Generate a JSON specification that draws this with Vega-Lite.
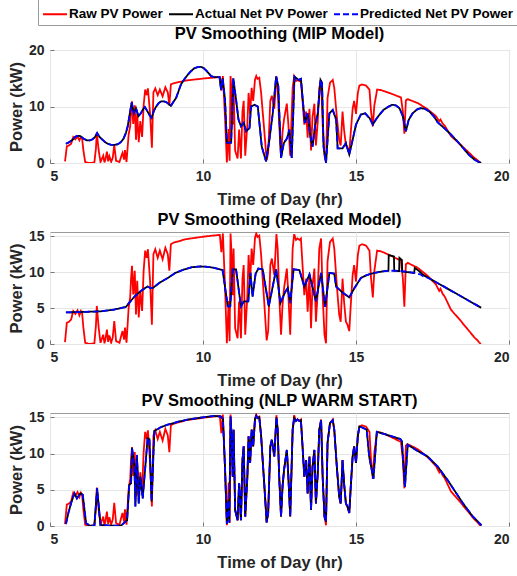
{
"$schema": "https://vega.github.io/schema/vega-lite/v6.json",
"background": "white",
"padding": {"left": 7, "top": -4, "right": 5, "bottom": 2},
"config": {
  "font": "Liberation Sans",
  "view": {"stroke": "#9a9a9a", "strokeWidth": 1},
  "axis": {"labelFont": "Liberation Sans", "labelFontSize": 14, "labelFontWeight": "bold", "labelColor": "#262626", "titleFont": "Liberation Sans", "titleFontSize": 16.5, "titleFontWeight": "bold", "titleColor": "#262626", "gridColor": "#e6e6e6", "gridWidth": 1, "domain": false, "ticks": true, "tickSize": -4, "tickColor": "#777777"},
  "axisX": {"labelPadding": 10, "titlePadding": 8},
  "axisY": {"labelPadding": 10, "titlePadding": 4},
  "title": {"font": "Liberation Sans", "fontSize": 16.5, "fontWeight": "bold", "color": "#000000", "offset": 1, "anchor": "middle"},
  "legend": {"orient": "none", "legendX": -12, "legendY": -53, "direction": "horizontal", "title": null, "strokeColor": "#9a9a9a", "fillColor": "white", "padding": 4, "labelFont": "Liberation Sans", "labelFontSize": 13.5, "labelFontWeight": "bold", "labelColor": "#000000", "symbolType": "stroke", "symbolSize": 576, "symbolStrokeWidth": 2, "columnPadding": 2, "labelOffset": 1},
  "concat": {"spacing": 3}
},
"datasets": {
"raw": [
{"s":"a","t":5.49,"p":0.27},{"s":"a","t":5.55,"p":2.96},{"s":"a","t":5.62,"p":3.1},{"s":"a","t":5.69,"p":3.4},{"s":"a","t":5.76,"p":4.6},{"s":"a","t":5.83,"p":4.2},{"s":"a","t":5.9,"p":4.7},{"s":"a","t":5.96,"p":4.0},{"s":"a","t":6.01,"p":4.6},{"s":"a","t":6.05,"p":4.3},{"s":"a","t":6.09,"p":2.3},{"s":"a","t":6.15,"p":0.17},{"s":"a","t":6.28,"p":0},{"s":"a","t":6.45,"p":0.1},{"s":"a","t":6.5,"p":2.5},{"s":"a","t":6.53,"p":5.3},{"s":"a","t":6.59,"p":2.3},{"s":"a","t":6.65,"p":0.17},{"s":"a","t":6.74,"p":1.3},{"s":"a","t":6.78,"p":0.1},{"s":"a","t":6.81,"p":0.6},{"s":"a","t":6.86,"p":2.0},{"s":"a","t":6.9,"p":0.3},{"s":"a","t":6.94,"p":1.2},{"s":"a","t":7.0,"p":0.2},{"s":"a","t":7.05,"p":0.9},{"s":"a","t":7.1,"p":3.2},{"s":"a","t":7.16,"p":0.4},{"s":"a","t":7.27,"p":0.17},{"s":"a","t":7.33,"p":1.2},{"s":"a","t":7.37,"p":1.8},{"s":"a","t":7.42,"p":0.6},{"s":"a","t":7.45,"p":2.3},{"s":"a","t":7.5,"p":0.17},{"s":"a","t":7.57,"p":5.05},{"s":"a","t":7.62,"p":6.5},{"s":"a","t":7.65,"p":9.2},{"s":"a","t":7.68,"p":10.9},{"s":"a","t":7.72,"p":6.9},{"s":"a","t":7.77,"p":10.2},{"s":"a","t":7.81,"p":4.1},{"s":"a","t":7.85,"p":8.8},{"s":"a","t":7.9,"p":3.7},{"s":"a","t":7.95,"p":7.4},{"s":"a","t":8.01,"p":4.6},{"s":"a","t":8.06,"p":10.2},{"s":"a","t":8.11,"p":13.0},{"s":"a","t":8.16,"p":12.0},{"s":"a","t":8.2,"p":13.2},{"s":"a","t":8.27,"p":8.8},{"s":"a","t":8.33,"p":2.7},{"s":"a","t":8.38,"p":12.5},{"s":"a","t":8.44,"p":13.2},{"s":"a","t":8.52,"p":12.0},{"s":"a","t":8.59,"p":13.0},{"s":"a","t":8.68,"p":11.8},{"s":"a","t":8.77,"p":13.4},{"s":"a","t":8.85,"p":12.5},{"s":"a","t":8.9,"p":10.2},{"s":"a","t":8.95,"p":13.9},{"s":"a","t":9.03,"p":14.1},{"s":"a","t":9.44,"p":14.6},{"s":"a","t":10.1,"p":15.0},{"s":"a","t":10.55,"p":15.2},{"s":"a","t":10.6,"p":12.8},{"s":"a","t":10.65,"p":15.4},{"s":"a","t":10.72,"p":8.0},{"s":"a","t":10.78,"p":0.1},{"s":"a","t":10.84,"p":6.0},{"s":"a","t":10.87,"p":0.4},{"s":"a","t":10.9,"p":15.4},
{"s":"a","t":10.94,"p":12},{"s":"a","t":10.97,"p":6.8},{"s":"a","t":11.0,"p":13.3},{"s":"a","t":11.05,"p":2.2},{"s":"a","t":11.13,"p":0.8},{"s":"a","t":11.18,"p":5.9},{"s":"a","t":11.24,"p":0.8},{"s":"a","t":11.29,"p":9.1},{"s":"a","t":11.33,"p":11},{"s":"a","t":11.38,"p":1.3},{"s":"a","t":11.45,"p":6.8},{"s":"a","t":11.49,"p":12.4},{"s":"a","t":11.54,"p":8.7},{"s":"a","t":11.59,"p":13.3},{"s":"a","t":11.64,"p":11},{"s":"a","t":11.7,"p":14.8},{"s":"a","t":11.74,"p":15.4},{"s":"a","t":11.78,"p":14.9},{"s":"a","t":11.84,"p":15.1},{"s":"a","t":11.9,"p":12.4},{"s":"a","t":11.95,"p":9.1},{"s":"a","t":12.0,"p":5.9},{"s":"a","t":12.08,"p":0.5},{"s":"a","t":12.13,"p":1.8},{"s":"a","t":12.2,"p":11},{"s":"a","t":12.25,"p":11.9},{"s":"a","t":12.33,"p":9.6},{"s":"a","t":12.4,"p":15.3},{"s":"a","t":12.44,"p":13.3},{"s":"a","t":12.49,"p":6.8},{"s":"a","t":12.55,"p":1.3},{"s":"a","t":12.6,"p":5.5},{"s":"a","t":12.65,"p":7.8},{"s":"a","t":12.74,"p":10.5},{"s":"a","t":12.79,"p":6.8},{"s":"a","t":12.85,"p":1.3},{"s":"a","t":12.93,"p":13.3},{"s":"a","t":12.98,"p":15.3},{"s":"a","t":13.04,"p":14.5},{"s":"a","t":13.09,"p":14.7},{"s":"a","t":13.15,"p":14.5},{"s":"a","t":13.2,"p":14.7},{"s":"a","t":13.26,"p":10.5},{"s":"a","t":13.31,"p":6.8},{"s":"a","t":13.37,"p":9.1},{"s":"a","t":13.42,"p":4.5},{"s":"a","t":13.48,"p":9.6},{"s":"a","t":13.53,"p":2.2},{"s":"a","t":13.58,"p":8.2},{"s":"a","t":13.64,"p":10.5},{"s":"a","t":13.69,"p":3.1},{"s":"a","t":13.75,"p":7.3},{"s":"a","t":13.8,"p":13.3},{"s":"a","t":13.86,"p":14.7},{"s":"a","t":13.91,"p":6.8},{"s":"a","t":13.97,"p":1.3},{"s":"a","t":14.02,"p":0.1},{"s":"a","t":14.07,"p":11.5},{"s":"a","t":14.15,"p":14.2},{"s":"a","t":14.24,"p":14.7},{"s":"a","t":14.29,"p":13.3},{"s":"a","t":14.38,"p":7.8},{"s":"a","t":14.45,"p":4.1},{"s":"a","t":14.5,"p":3.1},{"s":"a","t":14.56,"p":9.1},{"s":"a","t":14.61,"p":5.9},{"s":"a","t":14.67,"p":3.1},{"s":"a","t":14.72,"p":2.7},{"s":"a","t":14.78,"p":1.8},{"s":"a","t":14.83,"p":5.5},{"s":"a","t":14.89,"p":9.6},{"s":"a","t":14.94,"p":11},{"s":"a","t":15.0,"p":8.7},{"s":"a","t":15.06,"p":12.4},
{"s":"a","t":15.11,"p":13.7},{"s":"a","t":15.2,"p":13.9},{"s":"a","t":15.33,"p":13.7},{"s":"a","t":15.44,"p":13.0},{"s":"a","t":15.49,"p":9.25},{"s":"a","t":15.55,"p":6.5},{"s":"a","t":15.6,"p":10.2},{"s":"a","t":15.69,"p":13.0},{"s":"a","t":15.82,"p":12.9},{"s":"a","t":16.14,"p":12.3},{"s":"a","t":16.47,"p":11.6},{"s":"a","t":16.53,"p":9.2},{"s":"a","t":16.58,"p":5.2},{"s":"a","t":16.63,"p":11.1},{"s":"a","t":16.69,"p":11.3},{"s":"a","t":17.02,"p":10.6},{"s":"a","t":17.34,"p":9.5},{"s":"a","t":17.61,"p":8.3},{"s":"a","t":17.72,"p":7.4},{"s":"a","t":17.76,"p":7.7},{"s":"a","t":17.83,"p":7.0},{"s":"a","t":17.9,"p":6.6},{"s":"a","t":18.1,"p":4.8},{"s":"a","t":18.2,"p":4.3},{"s":"a","t":18.43,"p":3.2},{"s":"a","t":18.5,"p":2.8},{"s":"a","t":18.7,"p":1.8},{"s":"a","t":18.87,"p":0.9},{"s":"a","t":18.95,"p":0.6},{"s":"a","t":19.03,"p":0.2},{"s":"a","t":19.08,"p":0}
],
"mip": [
{"s":"b","t":5.52,"p":3.4},{"s":"b","t":5.6,"p":3.6},{"s":"b","t":5.74,"p":4.1},{"s":"b","t":5.82,"p":4.6},{"s":"b","t":5.88,"p":4.8},{"s":"b","t":5.95,"p":4.8},{"s":"b","t":6.01,"p":4.7},{"s":"b","t":6.1,"p":4.3},{"s":"b","t":6.21,"p":4.0},{"s":"b","t":6.3,"p":4.0},{"s":"b","t":6.39,"p":4.2},{"s":"b","t":6.47,"p":4.6},{"s":"b","t":6.54,"p":5.3},{"s":"b","t":6.62,"p":4.6},{"s":"b","t":6.72,"p":4.1},{"s":"b","t":6.8,"p":3.7},{"s":"b","t":6.89,"p":3.4},{"s":"b","t":7.0,"p":3.2},{"s":"b","t":7.1,"p":3.2},{"s":"b","t":7.2,"p":3.3},{"s":"b","t":7.27,"p":3.5},{"s":"b","t":7.35,"p":3.9},{"s":"b","t":7.41,"p":4.4},{"s":"b","t":7.48,"p":5.3},{"s":"b","t":7.54,"p":6.5},{"s":"b","t":7.6,"p":8.5},{"s":"b","t":7.67,"p":10.7},{"s":"b","t":7.74,"p":8.8},{"s":"b","t":7.81,"p":9.7},{"s":"b","t":7.89,"p":8.3},{"s":"b","t":7.97,"p":8.8},{"s":"b","t":8.05,"p":9.6},{"s":"b","t":8.1,"p":9.9},{"s":"b","t":8.18,"p":9.2},{"s":"b","t":8.25,"p":8.5},{"s":"b","t":8.32,"p":8.0},{"s":"b","t":8.4,"p":9.3},{"s":"b","t":8.47,"p":10.0},{"s":"b","t":8.55,"p":10.6},{"s":"b","t":8.63,"p":10.9},{"s":"b","t":8.72,"p":10.9},{"s":"b","t":8.79,"p":10.8},{"s":"b","t":8.87,"p":10.5},{"s":"b","t":8.95,"p":10.1},{"s":"b","t":9.03,"p":10.8},{"s":"b","t":9.12,"p":11.5},{"s":"b","t":9.2,"p":12.7},{"s":"b","t":9.28,"p":13.9},{"s":"b","t":9.4,"p":14.9},{"s":"b","t":9.5,"p":15.6},{"s":"b","t":9.6,"p":16.2},{"s":"b","t":9.72,"p":16.8},{"s":"b","t":9.85,"p":17.0},{"s":"b","t":9.94,"p":17.0},{"s":"b","t":10.02,"p":16.8},{"s":"b","t":10.1,"p":16.4},{"s":"b","t":10.18,"p":15.9},{"s":"b","t":10.26,"p":15.4},{"s":"b","t":10.37,"p":15.2},{"s":"b","t":10.54,"p":15.2},{"s":"b","t":10.59,"p":13.0},{"s":"b","t":10.64,"p":15.0},{"s":"b","t":10.72,"p":11.2},{"s":"b","t":10.78,"p":3.6},{"s":"b","t":10.92,"p":3.6},{"s":"b","t":10.99,"p":15.0},{"s":"b","t":11.08,"p":11.2},{"s":"b","t":11.16,"p":7.7},{"s":"b","t":11.24,"p":6.5},{"s":"b","t":11.33,"p":7.1},{"s":"b","t":11.41,"p":5.6},{"s":"b","t":11.52,"p":6.2},{"s":"b","t":11.57,"p":10.0},{"s":"b","t":11.68,"p":10.3},{"s":"b","t":11.79,"p":10.0},{"s":"b","t":11.92,"p":2.9},{"s":"b","t":12.06,"p":0.3},{"s":"b","t":12.17,"p":4.1},{"s":"b","t":12.28,"p":8.8},{"s":"b","t":12.39,"p":15.3},{"s":"b","t":12.46,"p":13.6},{"s":"b","t":12.55,"p":0.9},{"s":"b","t":12.64,"p":3.5},{"s":"b","t":12.75,"p":4.4},{"s":"b","t":12.82,"p":5.9},{"s":"b","t":12.9,"p":0.9},{"s":"b","t":12.99,"p":15.3},{"s":"b","t":13.12,"p":14.7},{"s":"b","t":13.2,"p":14.9},{"s":"b","t":13.26,"p":11.2},{"s":"b","t":13.33,"p":7.1},{"s":"b","t":13.42,"p":8.8},{"s":"b","t":13.51,"p":4.7},{"s":"b","t":13.58,"p":2.9},{"s":"b","t":13.66,"p":6.5},{"s":"b","t":13.75,"p":8.8},{"s":"b","t":13.84,"p":14.7},{"s":"b","t":13.89,"p":14.2},{"s":"b","t":13.94,"p":2.9},{"s":"b","t":14.02,"p":0.0},{"s":"b","t":14.13,"p":8.8},{"s":"b","t":14.24,"p":9.4},{"s":"b","t":14.35,"p":7.7},{"s":"b","t":14.4,"p":2.6},{"s":"b","t":14.56,"p":2.6},{"s":"b","t":14.67,"p":3.5},{"s":"b","t":14.78,"p":1.5},{"s":"b","t":14.89,"p":4.1},{"s":"b","t":15.0,"p":6.8},{"s":"b","t":15.16,"p":8.6},{"s":"b","t":15.3,"p":8.8},{"s":"b","t":15.45,"p":7.9},{"s":"b","t":15.55,"p":6.8},{"s":"b","t":15.65,"p":7.7},{"s":"b","t":15.76,"p":8.5},{"s":"b","t":15.9,"p":9.4},{"s":"b","t":16.04,"p":9.9},{"s":"b","t":16.18,"p":10.3},{"s":"b","t":16.3,"p":10.2},{"s":"b","t":16.42,"p":9.7},{"s":"b","t":16.53,"p":8.3},{"s":"b","t":16.63,"p":5.6},{"s":"b","t":16.72,"p":7.6},{"s":"b","t":16.85,"p":8.8},{"s":"b","t":17.0,"p":9.5},{"s":"b","t":17.12,"p":9.7},{"s":"b","t":17.25,"p":9.6},{"s":"b","t":17.4,"p":9.1},{"s":"b","t":17.55,"p":8.2},{"s":"b","t":17.67,"p":7.2},{"s":"b","t":17.9,"p":6.1},{"s":"b","t":18.11,"p":5.0},{"s":"b","t":18.3,"p":3.9},{"s":"b","t":18.54,"p":2.4},{"s":"b","t":18.7,"p":1.4},{"s":"b","t":18.87,"p":0.6},{"s":"b","t":19.0,"p":0.2},{"s":"b","t":19.09,"p":0.0},
{"s":"c","t":5.52,"p":3.4},{"s":"c","t":5.6,"p":3.6},{"s":"c","t":5.74,"p":4.1},{"s":"c","t":5.82,"p":4.6},{"s":"c","t":5.88,"p":4.8},{"s":"c","t":5.95,"p":4.8},{"s":"c","t":6.01,"p":4.7},{"s":"c","t":6.1,"p":4.3},{"s":"c","t":6.21,"p":4.0},{"s":"c","t":6.3,"p":4.0},{"s":"c","t":6.39,"p":4.2},{"s":"c","t":6.47,"p":4.6},{"s":"c","t":6.54,"p":5.3},{"s":"c","t":6.62,"p":4.6},{"s":"c","t":6.72,"p":4.1},{"s":"c","t":6.8,"p":3.7},{"s":"c","t":6.89,"p":3.4},{"s":"c","t":7.0,"p":3.2},{"s":"c","t":7.1,"p":3.2},{"s":"c","t":7.2,"p":3.3},{"s":"c","t":7.27,"p":3.5},{"s":"c","t":7.35,"p":3.9},{"s":"c","t":7.41,"p":4.4},{"s":"c","t":7.48,"p":5.3},{"s":"c","t":7.54,"p":6.5},{"s":"c","t":7.6,"p":8.5},{"s":"c","t":7.67,"p":10.7},{"s":"c","t":7.74,"p":8.8},{"s":"c","t":7.81,"p":9.7},{"s":"c","t":7.89,"p":8.3},{"s":"c","t":7.97,"p":8.8},{"s":"c","t":8.05,"p":9.6},{"s":"c","t":8.1,"p":9.9},{"s":"c","t":8.18,"p":9.2},{"s":"c","t":8.25,"p":8.5},{"s":"c","t":8.32,"p":8.0},{"s":"c","t":8.4,"p":9.3},{"s":"c","t":8.47,"p":10.0},{"s":"c","t":8.55,"p":10.6},{"s":"c","t":8.63,"p":10.9},{"s":"c","t":8.72,"p":10.9},{"s":"c","t":8.79,"p":10.8},{"s":"c","t":8.87,"p":10.5},{"s":"c","t":8.95,"p":10.1},{"s":"c","t":9.03,"p":10.8},{"s":"c","t":9.12,"p":11.5},{"s":"c","t":9.2,"p":12.7},{"s":"c","t":9.28,"p":13.9},{"s":"c","t":9.4,"p":14.9},{"s":"c","t":9.5,"p":15.6},{"s":"c","t":9.6,"p":16.2},{"s":"c","t":9.72,"p":16.8},{"s":"c","t":9.85,"p":17.0},{"s":"c","t":9.94,"p":17.0},{"s":"c","t":10.02,"p":16.8},{"s":"c","t":10.1,"p":16.4},{"s":"c","t":10.18,"p":15.9},{"s":"c","t":10.26,"p":15.4},{"s":"c","t":10.37,"p":15.2},{"s":"c","t":10.54,"p":15.2},{"s":"c","t":10.59,"p":13.0},{"s":"c","t":10.64,"p":15.0},{"s":"c","t":10.72,"p":11.2},{"s":"c","t":10.78,"p":3.6},{"s":"c","t":10.92,"p":3.6},{"s":"c","t":10.99,"p":15.0},{"s":"c","t":11.08,"p":11.2},{"s":"c","t":11.16,"p":7.7},{"s":"c","t":11.24,"p":6.5},{"s":"c","t":11.33,"p":7.1},{"s":"c","t":11.41,"p":5.6},{"s":"c","t":11.52,"p":6.2},{"s":"c","t":11.57,"p":10.0},{"s":"c","t":11.68,"p":10.3},{"s":"c","t":11.79,"p":10.0},{"s":"c","t":11.92,"p":2.9},{"s":"c","t":12.06,"p":0.3},{"s":"c","t":12.17,"p":4.1},{"s":"c","t":12.28,"p":8.8},{"s":"c","t":12.39,"p":15.3},{"s":"c","t":12.46,"p":13.6},{"s":"c","t":12.55,"p":0.9},{"s":"c","t":12.64,"p":3.5},{"s":"c","t":12.75,"p":4.4},{"s":"c","t":12.82,"p":5.9},{"s":"c","t":12.9,"p":0.9},{"s":"c","t":12.99,"p":15.3},{"s":"c","t":13.12,"p":14.7},{"s":"c","t":13.2,"p":14.9},{"s":"c","t":13.26,"p":11.2},{"s":"c","t":13.33,"p":7.1},{"s":"c","t":13.42,"p":8.8},{"s":"c","t":13.51,"p":4.7},{"s":"c","t":13.58,"p":2.9},{"s":"c","t":13.66,"p":6.5},{"s":"c","t":13.75,"p":8.8},{"s":"c","t":13.84,"p":14.7},{"s":"c","t":13.89,"p":14.2},{"s":"c","t":13.94,"p":2.9},{"s":"c","t":14.02,"p":0.0},{"s":"c","t":14.13,"p":8.8},{"s":"c","t":14.24,"p":9.4},{"s":"c","t":14.35,"p":7.7},{"s":"c","t":14.4,"p":2.6},{"s":"c","t":14.56,"p":2.6},{"s":"c","t":14.67,"p":3.5},{"s":"c","t":14.78,"p":1.5},{"s":"c","t":14.89,"p":4.1},{"s":"c","t":15.0,"p":6.8},{"s":"c","t":15.16,"p":8.6},{"s":"c","t":15.3,"p":8.8},{"s":"c","t":15.45,"p":7.9},{"s":"c","t":15.55,"p":6.8},{"s":"c","t":15.65,"p":7.7},{"s":"c","t":15.76,"p":8.5},{"s":"c","t":15.9,"p":9.4},{"s":"c","t":16.04,"p":9.9},{"s":"c","t":16.18,"p":10.3},{"s":"c","t":16.3,"p":10.2},{"s":"c","t":16.42,"p":9.7},{"s":"c","t":16.53,"p":8.3},{"s":"c","t":16.63,"p":5.6},{"s":"c","t":16.72,"p":7.6},{"s":"c","t":16.85,"p":8.8},{"s":"c","t":17.0,"p":9.5},{"s":"c","t":17.12,"p":9.7},{"s":"c","t":17.25,"p":9.6},{"s":"c","t":17.4,"p":9.1},{"s":"c","t":17.55,"p":8.2},{"s":"c","t":17.67,"p":7.2},{"s":"c","t":17.9,"p":6.1},{"s":"c","t":18.11,"p":5.0},{"s":"c","t":18.3,"p":3.9},{"s":"c","t":18.54,"p":2.4},{"s":"c","t":18.7,"p":1.4},{"s":"c","t":18.87,"p":0.6},{"s":"c","t":19.0,"p":0.2},{"s":"c","t":19.09,"p":0.0}
],
"relaxed": [
{"s":"b","t":5.52,"p":4.4},{"s":"b","t":6.0,"p":4.45},{"s":"b","t":6.67,"p":4.55},{"s":"b","t":7.1,"p":4.8},{"s":"b","t":7.48,"p":5.16},{"s":"b","t":7.62,"p":5.9},{"s":"b","t":7.76,"p":6.6},{"s":"b","t":8.0,"p":7.5},{"s":"b","t":8.19,"p":8.0},{"s":"b","t":8.28,"p":7.8},{"s":"b","t":8.36,"p":7.8},{"s":"b","t":8.6,"p":8.6},{"s":"b","t":8.85,"p":9.2},{"s":"b","t":9.1,"p":9.9},{"s":"b","t":9.39,"p":10.4},{"s":"b","t":9.65,"p":10.7},{"s":"b","t":9.93,"p":10.8},{"s":"b","t":10.15,"p":10.75},{"s":"b","t":10.37,"p":10.6},{"s":"b","t":10.64,"p":10.3},{"s":"b","t":10.81,"p":5.25},{"s":"b","t":10.89,"p":5.25},{"s":"b","t":10.97,"p":10.4},{"s":"b","t":11.08,"p":10.4},{"s":"b","t":11.24,"p":5.25},{"s":"b","t":11.33,"p":5.9},{"s":"b","t":11.41,"p":5.95},{"s":"b","t":11.48,"p":5.95},{"s":"b","t":11.55,"p":9.9},{"s":"b","t":11.62,"p":6.6},{"s":"b","t":11.72,"p":9.8},{"s":"b","t":11.81,"p":10.5},{"s":"b","t":11.95,"p":10.4},{"s":"b","t":12.15,"p":5.25},{"s":"b","t":12.39,"p":10.4},{"s":"b","t":12.53,"p":5.7},{"s":"b","t":12.68,"p":7.2},{"s":"b","t":12.77,"p":7.8},{"s":"b","t":12.85,"p":5.7},{"s":"b","t":12.96,"p":10.4},{"s":"b","t":13.15,"p":10.3},{"s":"b","t":13.31,"p":8.0},{"s":"b","t":13.48,"p":9.7},{"s":"b","t":13.69,"p":5.95},{"s":"b","t":13.86,"p":9.9},{"s":"b","t":13.99,"p":5.16},{"s":"b","t":14.13,"p":9.9},{"s":"b","t":14.29,"p":9.8},{"s":"b","t":14.35,"p":8.0},{"s":"b","t":14.55,"p":7.2},{"s":"b","t":14.78,"p":6.5},{"s":"b","t":14.95,"p":7.8},{"s":"b","t":15.16,"p":9.2},{"s":"b","t":15.35,"p":9.6},{"s":"b","t":15.6,"p":9.9},{"s":"b","t":15.85,"p":10.1},{"s":"b","t":16.06,"p":10.2},{"s":"b","t":16.07,"p":12.4},{"s":"b","t":16.24,"p":12.2},{"s":"b","t":16.25,"p":10.2},{"s":"b","t":16.41,"p":10.15},{"s":"b","t":16.42,"p":12.0},{"s":"b","t":16.5,"p":11.7},{"s":"b","t":16.51,"p":10.1},{"s":"b","t":16.9,"p":9.9},{"s":"b","t":16.92,"p":10.6},{"s":"b","t":17.05,"p":10.2},{"s":"b","t":17.2,"p":9.6},{"s":"b","t":17.5,"p":8.9},{"s":"b","t":17.8,"p":8.17},{"s":"b","t":18.2,"p":7.2},{"s":"b","t":18.6,"p":6.24},{"s":"b","t":19.09,"p":5.05},
{"s":"c","t":5.52,"p":4.4},{"s":"c","t":6.0,"p":4.45},{"s":"c","t":6.67,"p":4.55},{"s":"c","t":7.1,"p":4.8},{"s":"c","t":7.48,"p":5.16},{"s":"c","t":7.62,"p":5.9},{"s":"c","t":7.76,"p":6.6},{"s":"c","t":8.0,"p":7.5},{"s":"c","t":8.19,"p":8.0},{"s":"c","t":8.28,"p":7.8},{"s":"c","t":8.36,"p":7.8},{"s":"c","t":8.6,"p":8.6},{"s":"c","t":8.85,"p":9.2},{"s":"c","t":9.1,"p":9.9},{"s":"c","t":9.39,"p":10.4},{"s":"c","t":9.65,"p":10.7},{"s":"c","t":9.93,"p":10.8},{"s":"c","t":10.15,"p":10.75},{"s":"c","t":10.37,"p":10.6},{"s":"c","t":10.64,"p":10.3},{"s":"c","t":10.81,"p":5.25},{"s":"c","t":10.89,"p":5.25},{"s":"c","t":10.97,"p":10.4},{"s":"c","t":11.08,"p":10.4},{"s":"c","t":11.24,"p":5.25},{"s":"c","t":11.33,"p":5.9},{"s":"c","t":11.41,"p":5.95},{"s":"c","t":11.48,"p":5.95},{"s":"c","t":11.55,"p":9.9},{"s":"c","t":11.62,"p":6.6},{"s":"c","t":11.72,"p":9.8},{"s":"c","t":11.81,"p":10.5},{"s":"c","t":11.95,"p":10.4},{"s":"c","t":12.15,"p":5.25},{"s":"c","t":12.39,"p":10.4},{"s":"c","t":12.53,"p":5.7},{"s":"c","t":12.68,"p":7.2},{"s":"c","t":12.77,"p":7.8},{"s":"c","t":12.85,"p":5.7},{"s":"c","t":12.96,"p":10.4},{"s":"c","t":13.15,"p":10.3},{"s":"c","t":13.31,"p":8.0},{"s":"c","t":13.48,"p":9.7},{"s":"c","t":13.69,"p":5.95},{"s":"c","t":13.86,"p":9.9},{"s":"c","t":13.99,"p":5.16},{"s":"c","t":14.13,"p":9.9},{"s":"c","t":14.29,"p":9.8},{"s":"c","t":14.35,"p":8.0},{"s":"c","t":14.55,"p":7.2},{"s":"c","t":14.78,"p":6.5},{"s":"c","t":14.95,"p":7.8},{"s":"c","t":15.16,"p":9.2},{"s":"c","t":15.35,"p":9.6},{"s":"c","t":15.6,"p":9.9},{"s":"c","t":15.85,"p":10.1},{"s":"c","t":16.06,"p":10.2},{"s":"c","t":16.3,"p":10.2},{"s":"c","t":16.6,"p":10.1},{"s":"c","t":16.9,"p":9.9},{"s":"c","t":17.1,"p":9.7},{"s":"c","t":17.2,"p":9.4},{"s":"c","t":17.3,"p":9.3},{"s":"c","t":17.5,"p":8.9},{"s":"c","t":17.8,"p":8.17},{"s":"c","t":18.2,"p":7.2},{"s":"c","t":18.6,"p":6.24},{"s":"c","t":19.09,"p":5.05}
],
"nlp": [
{"s":"b","t":5.52,"p":0.27},{"s":"b","t":5.6,"p":1.8},{"s":"b","t":5.7,"p":3.3},{"s":"b","t":5.8,"p":4.5},{"s":"b","t":5.88,"p":3.8},{"s":"b","t":5.99,"p":4.5},{"s":"b","t":6.07,"p":4.3},{"s":"b","t":6.18,"p":0.37},{"s":"b","t":6.3,"p":0.05},{"s":"b","t":6.45,"p":0.05},{"s":"b","t":6.54,"p":5.2},{"s":"b","t":6.65,"p":0.13},{"s":"b","t":7.0,"p":0.05},{"s":"b","t":7.32,"p":0.05},{"s":"b","t":7.52,"p":0.8},{"s":"b","t":7.59,"p":5.7},{"s":"b","t":7.65,"p":5.9},{"s":"b","t":7.68,"p":10.8},{"s":"b","t":7.76,"p":8.2},{"s":"b","t":7.79,"p":2.7},{"s":"b","t":7.84,"p":9.8},{"s":"b","t":7.9,"p":3.1},{"s":"b","t":7.95,"p":6.8},{"s":"b","t":8.03,"p":3.8},{"s":"b","t":8.19,"p":12.1},{"s":"b","t":8.25,"p":12.0},{"s":"b","t":8.32,"p":3.4},{"s":"b","t":8.41,"p":13.1},{"s":"b","t":8.6,"p":13.6},{"s":"b","t":8.85,"p":14.0},{"s":"b","t":9.2,"p":14.4},{"s":"b","t":9.5,"p":14.7},{"s":"b","t":10.0,"p":15.0},{"s":"b","t":10.37,"p":15.2},{"s":"b","t":10.59,"p":15.1},{"s":"b","t":10.65,"p":14.8},{"s":"b","t":10.72,"p":8.0},{"s":"b","t":10.78,"p":0.3},{"s":"b","t":10.83,"p":3.5},{"s":"b","t":10.86,"p":0.5},{"s":"b","t":10.9,"p":15.1},
{"s":"b","t":10.94,"p":12},{"s":"b","t":10.97,"p":6.8},{"s":"b","t":11.0,"p":13.3},{"s":"b","t":11.05,"p":2.2},{"s":"b","t":11.13,"p":0.8},{"s":"b","t":11.18,"p":5.9},{"s":"b","t":11.24,"p":0.8},{"s":"b","t":11.29,"p":9.1},{"s":"b","t":11.33,"p":11},{"s":"b","t":11.38,"p":1.3},{"s":"b","t":11.45,"p":6.8},{"s":"b","t":11.49,"p":12.4},{"s":"b","t":11.54,"p":8.7},{"s":"b","t":11.59,"p":13.3},{"s":"b","t":11.64,"p":11},{"s":"b","t":11.7,"p":14.8},{"s":"b","t":11.74,"p":15.2},{"s":"b","t":11.78,"p":14.9},{"s":"b","t":11.84,"p":15.0},{"s":"b","t":11.9,"p":12.4},{"s":"b","t":11.95,"p":9.1},{"s":"b","t":12.0,"p":5.9},{"s":"b","t":12.08,"p":0.5},{"s":"b","t":12.13,"p":1.8},{"s":"b","t":12.2,"p":11},{"s":"b","t":12.25,"p":11.9},{"s":"b","t":12.33,"p":9.6},{"s":"b","t":12.4,"p":15.0},{"s":"b","t":12.44,"p":13.3},{"s":"b","t":12.49,"p":6.8},{"s":"b","t":12.55,"p":1.3},{"s":"b","t":12.6,"p":5.5},{"s":"b","t":12.65,"p":7.8},{"s":"b","t":12.74,"p":10.5},{"s":"b","t":12.79,"p":6.8},{"s":"b","t":12.85,"p":1.3},{"s":"b","t":12.93,"p":13.3},{"s":"b","t":12.98,"p":14.9},{"s":"b","t":13.04,"p":14.5},{"s":"b","t":13.09,"p":14.7},{"s":"b","t":13.15,"p":14.5},{"s":"b","t":13.2,"p":14.6},{"s":"b","t":13.26,"p":10.5},{"s":"b","t":13.31,"p":6.8},{"s":"b","t":13.37,"p":9.1},{"s":"b","t":13.42,"p":4.5},{"s":"b","t":13.48,"p":9.6},{"s":"b","t":13.53,"p":2.2},{"s":"b","t":13.58,"p":8.2},{"s":"b","t":13.64,"p":10.5},{"s":"b","t":13.69,"p":3.1},{"s":"b","t":13.75,"p":7.3},{"s":"b","t":13.8,"p":13.3},{"s":"b","t":13.86,"p":14.6},{"s":"b","t":13.91,"p":6.8},{"s":"b","t":13.97,"p":1.3},{"s":"b","t":14.02,"p":0.6},{"s":"b","t":14.07,"p":11.5},{"s":"b","t":14.15,"p":14.2},{"s":"b","t":14.24,"p":14.6},{"s":"b","t":14.29,"p":13.3},{"s":"b","t":14.38,"p":7.8},{"s":"b","t":14.45,"p":4.1},{"s":"b","t":14.5,"p":3.1},{"s":"b","t":14.56,"p":9.1},{"s":"b","t":14.61,"p":5.9},{"s":"b","t":14.67,"p":3.1},{"s":"b","t":14.72,"p":2.7},{"s":"b","t":14.78,"p":1.8},{"s":"b","t":14.83,"p":5.5},{"s":"b","t":14.89,"p":9.6},{"s":"b","t":14.94,"p":11},{"s":"b","t":15.0,"p":8.7},{"s":"b","t":15.06,"p":12.4},
{"s":"b","t":15.11,"p":13.75},{"s":"b","t":15.2,"p":13.6},{"s":"b","t":15.35,"p":13.3},{"s":"b","t":15.43,"p":9.6},{"s":"b","t":15.57,"p":6.5},{"s":"b","t":15.68,"p":13.0},{"s":"b","t":16.0,"p":12.6},{"s":"b","t":16.45,"p":12.0},{"s":"b","t":16.5,"p":11.7},{"s":"b","t":16.6,"p":5.4},{"s":"b","t":16.69,"p":11.2},{"s":"b","t":17.0,"p":10.4},{"s":"b","t":17.34,"p":9.6},{"s":"b","t":17.67,"p":8.2},{"s":"b","t":18.0,"p":6.3},{"s":"b","t":18.5,"p":3.1},{"s":"b","t":18.8,"p":1.4},{"s":"b","t":19.1,"p":0.1},
{"s":"c","t":5.52,"p":0.27},{"s":"c","t":5.6,"p":1.8},{"s":"c","t":5.7,"p":3.3},{"s":"c","t":5.8,"p":4.5},{"s":"c","t":5.88,"p":3.8},{"s":"c","t":5.99,"p":4.5},{"s":"c","t":6.07,"p":4.3},{"s":"c","t":6.18,"p":0.37},{"s":"c","t":6.3,"p":0.05},{"s":"c","t":6.45,"p":0.05},{"s":"c","t":6.54,"p":5.2},{"s":"c","t":6.65,"p":0.13},{"s":"c","t":7.0,"p":0.05},{"s":"c","t":7.32,"p":0.05},{"s":"c","t":7.52,"p":0.8},{"s":"c","t":7.59,"p":5.7},{"s":"c","t":7.65,"p":5.9},{"s":"c","t":7.68,"p":10.8},{"s":"c","t":7.76,"p":8.2},{"s":"c","t":7.79,"p":2.7},{"s":"c","t":7.84,"p":9.8},{"s":"c","t":7.9,"p":3.1},{"s":"c","t":7.95,"p":6.8},{"s":"c","t":8.03,"p":3.8},{"s":"c","t":8.19,"p":12.1},{"s":"c","t":8.25,"p":12.0},{"s":"c","t":8.32,"p":3.4},{"s":"c","t":8.41,"p":13.1},{"s":"c","t":8.6,"p":13.6},{"s":"c","t":8.85,"p":14.0},{"s":"c","t":9.2,"p":14.4},{"s":"c","t":9.5,"p":14.7},{"s":"c","t":10.0,"p":15.0},{"s":"c","t":10.37,"p":15.2},{"s":"c","t":10.59,"p":15.1},{"s":"c","t":10.65,"p":14.8},{"s":"c","t":10.72,"p":8.0},{"s":"c","t":10.78,"p":0.3},{"s":"c","t":10.83,"p":3.5},{"s":"c","t":10.86,"p":0.5},{"s":"c","t":10.9,"p":15.1},
{"s":"c","t":10.94,"p":12},{"s":"c","t":10.97,"p":6.8},{"s":"c","t":11.0,"p":13.3},{"s":"c","t":11.05,"p":2.2},{"s":"c","t":11.13,"p":0.8},{"s":"c","t":11.18,"p":5.9},{"s":"c","t":11.24,"p":0.8},{"s":"c","t":11.29,"p":9.1},{"s":"c","t":11.33,"p":11},{"s":"c","t":11.38,"p":1.3},{"s":"c","t":11.45,"p":6.8},{"s":"c","t":11.49,"p":12.4},{"s":"c","t":11.54,"p":8.7},{"s":"c","t":11.59,"p":13.3},{"s":"c","t":11.64,"p":11},{"s":"c","t":11.7,"p":14.8},{"s":"c","t":11.74,"p":15.2},{"s":"c","t":11.78,"p":14.9},{"s":"c","t":11.84,"p":15.0},{"s":"c","t":11.9,"p":12.4},{"s":"c","t":11.95,"p":9.1},{"s":"c","t":12.0,"p":5.9},{"s":"c","t":12.08,"p":0.5},{"s":"c","t":12.13,"p":1.8},{"s":"c","t":12.2,"p":11},{"s":"c","t":12.25,"p":11.9},{"s":"c","t":12.33,"p":9.6},{"s":"c","t":12.4,"p":15.0},{"s":"c","t":12.44,"p":13.3},{"s":"c","t":12.49,"p":6.8},{"s":"c","t":12.55,"p":1.3},{"s":"c","t":12.6,"p":5.5},{"s":"c","t":12.65,"p":7.8},{"s":"c","t":12.74,"p":10.5},{"s":"c","t":12.79,"p":6.8},{"s":"c","t":12.85,"p":1.3},{"s":"c","t":12.93,"p":13.3},{"s":"c","t":12.98,"p":14.9},{"s":"c","t":13.04,"p":14.5},{"s":"c","t":13.09,"p":14.7},{"s":"c","t":13.15,"p":14.5},{"s":"c","t":13.2,"p":14.6},{"s":"c","t":13.26,"p":10.5},{"s":"c","t":13.31,"p":6.8},{"s":"c","t":13.37,"p":9.1},{"s":"c","t":13.42,"p":4.5},{"s":"c","t":13.48,"p":9.6},{"s":"c","t":13.53,"p":2.2},{"s":"c","t":13.58,"p":8.2},{"s":"c","t":13.64,"p":10.5},{"s":"c","t":13.69,"p":3.1},{"s":"c","t":13.75,"p":7.3},{"s":"c","t":13.8,"p":13.3},{"s":"c","t":13.86,"p":14.6},{"s":"c","t":13.91,"p":6.8},{"s":"c","t":13.97,"p":1.3},{"s":"c","t":14.02,"p":0.6},{"s":"c","t":14.07,"p":11.5},{"s":"c","t":14.15,"p":14.2},{"s":"c","t":14.24,"p":14.6},{"s":"c","t":14.29,"p":13.3},{"s":"c","t":14.38,"p":7.8},{"s":"c","t":14.45,"p":4.1},{"s":"c","t":14.5,"p":3.1},{"s":"c","t":14.56,"p":9.1},{"s":"c","t":14.61,"p":5.9},{"s":"c","t":14.67,"p":3.1},{"s":"c","t":14.72,"p":2.7},{"s":"c","t":14.78,"p":1.8},{"s":"c","t":14.83,"p":5.5},{"s":"c","t":14.89,"p":9.6},{"s":"c","t":14.94,"p":11},{"s":"c","t":15.0,"p":8.7},{"s":"c","t":15.06,"p":12.4},
{"s":"c","t":15.11,"p":13.75},{"s":"c","t":15.2,"p":13.6},{"s":"c","t":15.35,"p":13.3},{"s":"c","t":15.43,"p":9.6},{"s":"c","t":15.57,"p":6.5},{"s":"c","t":15.68,"p":13.0},{"s":"c","t":16.0,"p":12.6},{"s":"c","t":16.45,"p":12.0},{"s":"c","t":16.5,"p":11.7},{"s":"c","t":16.6,"p":5.4},{"s":"c","t":16.69,"p":11.2},{"s":"c","t":17.0,"p":10.4},{"s":"c","t":17.34,"p":9.6},{"s":"c","t":17.67,"p":8.2},{"s":"c","t":18.0,"p":6.3},{"s":"c","t":18.5,"p":3.1},{"s":"c","t":18.8,"p":1.4},{"s":"c","t":19.1,"p":0.1}
]
},
"vconcat": [
{
 "title": "PV Smoothing (MIP Model)",
 "width": 459, "height": 113,
 "encoding": {
  "x": {"field": "t", "type": "quantitative", "scale": {"domain": [5, 20], "nice": false}, "axis": {"values": [5, 10, 15, 20], "title": "Time of Day (hr)"}},
  "y": {"field": "p", "type": "quantitative", "scale": {"domain": [0, 20], "nice": false}, "axis": {"values": [0, 10, 20], "title": "Power (kW)"}},
  "color": {"field": "s", "type": "nominal", "scale": {"domain": ["a", "b", "c"], "range": ["#ff0000", "#000000", "#0000ff"]}, "legend": {"labelExpr": "datum.label == 'a' ? 'Raw PV Power' : datum.label == 'b' ? 'Actual Net PV Power' : 'Predicted Net PV Power'"}},
  "strokeDash": {"field": "s", "type": "nominal", "scale": {"domain": ["a", "b", "c"], "range": [[1, 0], [1, 0], [6, 3]]}, "legend": {"labelExpr": "datum.label == 'a' ? 'Raw PV Power' : datum.label == 'b' ? 'Actual Net PV Power' : 'Predicted Net PV Power'"}}
 },
 "layer": [
  {"data": {"name": "raw"}, "mark": {"type": "line", "strokeWidth": 1.8, "clip": true}},
  {"data": {"name": "mip"}, "transform": [{"filter": "datum.s == 'b'"}], "mark": {"type": "line", "strokeWidth": 1.8, "clip": true}},
  {"data": {"name": "mip"}, "transform": [{"filter": "datum.s == 'c'"}], "mark": {"type": "line", "strokeWidth": 1.8, "clip": true}}
 ]
},
{
 "title": "PV Smoothing (Relaxed Model)",
 "width": 459, "height": 112,
 "encoding": {
  "x": {"field": "t", "type": "quantitative", "scale": {"domain": [5, 20], "nice": false}, "axis": {"values": [5, 10, 15, 20], "title": "Time of Day (hr)"}},
  "y": {"field": "p", "type": "quantitative", "scale": {"domain": [0, 15.6], "nice": false}, "axis": {"values": [0, 5, 10, 15], "title": "Power (kW)"}},
  "color": {"field": "s", "type": "nominal", "scale": {"domain": ["a", "b", "c"], "range": ["#ff0000", "#000000", "#0000ff"]}, "legend": {"labelExpr": "datum.label == 'a' ? 'Raw PV Power' : datum.label == 'b' ? 'Actual Net PV Power' : 'Predicted Net PV Power'"}},
  "strokeDash": {"field": "s", "type": "nominal", "scale": {"domain": ["a", "b", "c"], "range": [[1, 0], [1, 0], [6, 3]]}, "legend": {"labelExpr": "datum.label == 'a' ? 'Raw PV Power' : datum.label == 'b' ? 'Actual Net PV Power' : 'Predicted Net PV Power'"}}
 },
 "layer": [
  {"data": {"name": "raw"}, "mark": {"type": "line", "strokeWidth": 1.8, "clip": true}},
  {"data": {"name": "relaxed"}, "transform": [{"filter": "datum.s == 'b'"}], "mark": {"type": "line", "strokeWidth": 1.8, "clip": true}},
  {"data": {"name": "relaxed"}, "transform": [{"filter": "datum.s == 'c'"}], "mark": {"type": "line", "strokeWidth": 1.8, "clip": true}}
 ]
},
{
 "title": "PV Smoothing (NLP WARM START)",
 "width": 459, "height": 113,
 "encoding": {
  "x": {"field": "t", "type": "quantitative", "scale": {"domain": [5, 20], "nice": false}, "axis": {"values": [5, 10, 15, 20], "title": "Time of Day (hr)"}},
  "y": {"field": "p", "type": "quantitative", "scale": {"domain": [0, 15.6], "nice": false}, "axis": {"values": [0, 5, 10, 15], "title": "Power (kW)"}},
  "color": {"field": "s", "type": "nominal", "scale": {"domain": ["a", "b", "c"], "range": ["#ff0000", "#000000", "#0000ff"]}, "legend": {"labelExpr": "datum.label == 'a' ? 'Raw PV Power' : datum.label == 'b' ? 'Actual Net PV Power' : 'Predicted Net PV Power'"}},
  "strokeDash": {"field": "s", "type": "nominal", "scale": {"domain": ["a", "b", "c"], "range": [[1, 0], [1, 0], [6, 3]]}, "legend": {"labelExpr": "datum.label == 'a' ? 'Raw PV Power' : datum.label == 'b' ? 'Actual Net PV Power' : 'Predicted Net PV Power'"}}
 },
 "layer": [
  {"data": {"name": "raw"}, "mark": {"type": "line", "strokeWidth": 1.8, "clip": true}},
  {"data": {"name": "nlp"}, "transform": [{"filter": "datum.s == 'b'"}], "mark": {"type": "line", "strokeWidth": 1.8, "clip": true}},
  {"data": {"name": "nlp"}, "transform": [{"filter": "datum.s == 'c'"}], "mark": {"type": "line", "strokeWidth": 1.8, "clip": true}}
 ]
}
]
}
